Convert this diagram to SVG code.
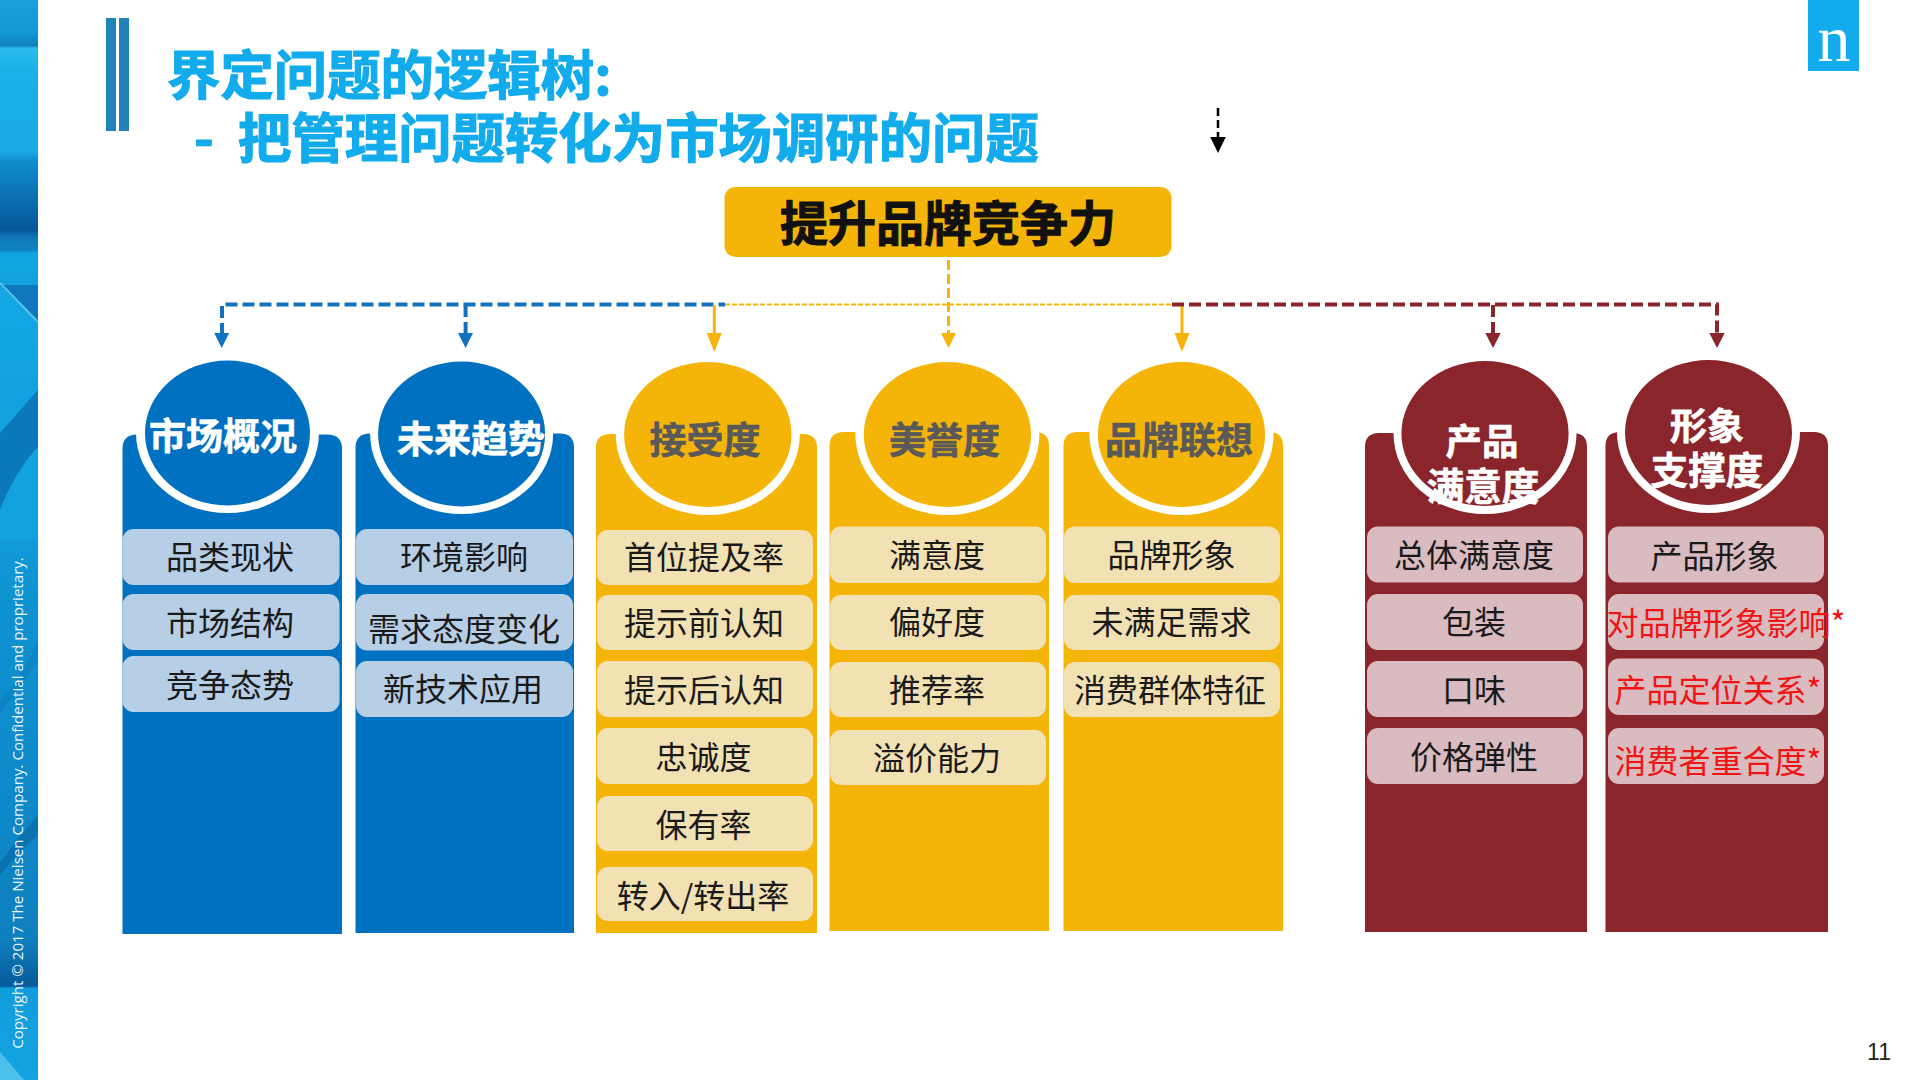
<svg xmlns="http://www.w3.org/2000/svg" width="1920" height="1080" viewBox="0 0 1920 1080">
<style>
text{font-family:"Noto Sans CJK SC","Noto Sans",sans-serif;text-anchor:middle;dominant-baseline:central}
.blue{fill:#0070c0}.gold{fill:#f5b508}.red{fill:#8a252b}
.ib{fill:#b6cfe7}.ig{fill:#f1e1b3}.ir{fill:#d9bbc0}
.t{font-size:32px;fill:#1a1a1a}.r{font-size:32px;fill:#f01414}
.c{font-size:37px;font-weight:700;fill:#fff;stroke:#fff;stroke-width:.6}
.g{font-size:37px;font-weight:700;fill:#595959;stroke:#595959;stroke-width:.6}
.ring{fill:#fff}
.title{font-size:53.400px;font-weight:700;fill:#12abeb;stroke:#12abeb;stroke-width:1.200;text-anchor:start}
.lb{fill:none;stroke:#1272bd;stroke-width:4;stroke-dasharray:12 5}
.lg{fill:none;stroke:#f5b508;stroke-width:2;stroke-dasharray:5 2}
.lgd{fill:none;stroke:#f5b508;stroke-width:3;stroke-dasharray:10 4}
.lgs{fill:none;stroke:#f5b508;stroke-width:3}
.lr{fill:none;stroke:#8a252b;stroke-width:4;stroke-dasharray:12 5}
.lk{fill:none;stroke:#000;stroke-width:2.500;stroke-dasharray:8 4}
</style>
<defs>
<linearGradient id="band" gradientUnits="userSpaceOnUse" x1="0" y1="0" x2="0" y2="1080">
<stop offset="0" stop-color="#1aa0d8"/><stop offset=".031" stop-color="#1298d2"/><stop offset=".042" stop-color="#0f80bc"/><stop offset=".045" stop-color="#2abcec"/><stop offset=".065" stop-color="#1cb0e8"/><stop offset=".14" stop-color="#1aaae4"/><stop offset=".15" stop-color="#0f8ccb"/><stop offset=".213" stop-color="#06569a"/><stop offset=".22" stop-color="#0f78b8"/><stop offset=".232" stop-color="#0f84c2"/><stop offset=".234" stop-color="#12a4e2"/><stop offset=".264" stop-color="#12a2e0"/>
<stop offset=".27" stop-color="#14a8e6"/><stop offset=".5" stop-color="#1199d8"/><stop offset=".56" stop-color="#0f92d0"/><stop offset=".75" stop-color="#0e88c8"/><stop offset=".87" stop-color="#0f80be"/><stop offset=".913" stop-color="#07599a"/><stop offset=".915" stop-color="#119ddc"/><stop offset="1" stop-color="#13a3e0"/>
</linearGradient>
</defs>
<rect id="bg" width="1920" height="1080" fill="#fff"/>
<g id="side-band">
<rect width="38" height="1080" fill="url(#band)"/>
<path d="M0 285H38V322Z" fill="#0f78bc"/>
<path d="M0 283L38 322" stroke="#54c6ee" stroke-width="2" fill="none"/>
<path d="M0 433L38 390V447Q16 470 0 510Z" fill="#0b78ba"/>
<path d="M0 510Q16 470 38 447V540H0Z" fill="#12a2e0"/>
<path d="M0 700Q20 680 38 640V660Q20 690 0 712Z" fill="#0b6fae" opacity=".3"/>
<path d="M0 863Q20 835 38 815V835Q20 850 0 875Z" fill="#07609e" opacity=".55"/>
<path d="M0 1052L24 1080H0Z" fill="#4cc0ec"/>
<text transform="translate(17 803) rotate(-90)" style="font-family:'Open Sans','Noto Sans',sans-serif;font-size:15.100px;fill:#e8f4fb">Copyright © 2017 The Nielsen Company. Confidential and proprietary.</text>
</g>
<g id="title">
<rect x="106" y="18" width="10" height="113" fill="#1f82b8"/><rect x="119" y="18" width="10" height="113" fill="#1f82b8"/>
<text class="title" x="167" y="71">界定问题的逻辑树:</text>
<text class="title" x="194" y="134">-</text>
<text class="title" x="238" y="134">把管理问题转化为市场调研的问题</text>
</g>
<g id="logo"><rect x="1808" y="0" width="51" height="71" fill="#12abeb"/>
<text x="1834" y="61" style="font-family:'Liberation Serif',serif;font-size:66px;fill:#fff;dominant-baseline:auto">n</text></g>
<g id="connectors">
<path class="lb" d="M222 335V304.500H725"/><path class="lb" d="M465.600 305V335"/>
<path class="lg" d="M725 304.500H1172"/>
<path class="lgd" d="M948.500 260V335"/><path class="lgs" d="M714.300 305V335"/><path class="lgs" d="M1182 305V335"/>
<path class="lr" d="M1172 304.500H1717V335"/><path class="lr" d="M1493 305V335"/>
<path class="lk" d="M1218 108V138"/>
<g fill="#1272bd"><path d="M214.200 333H229.200L221.700 348Z"/><path d="M458 333H473L465.600 348Z"/></g>
<g fill="#f5b508"><path d="M706.800 333H721.800L714.300 352Z"/><path d="M941 333H956L948.500 348Z"/><path d="M1174.500 333H1189.500L1182 352Z"/></g>
<g fill="#8a252b"><path d="M1485.300 333H1500.700L1493 348Z"/><path d="M1709.300 333H1724.700L1717 348Z"/></g>
<path d="M1210.200 137H1225.800L1218 153Z" fill="#000"/>
</g>
<g id="root"><rect x="724.500" y="187" width="447" height="70" rx="11" class="gold"/>
<text x="948" y="219.500" style="font-size:48px;font-weight:700;fill:#111;stroke:#111;stroke-width:1">提升品牌竞争力</text></g>

<g id="col-1"><path class="blue" d="M122.500 934V449Q122.500 434.500 137 434.500H327Q342 434.500 342 449V934Z"/>
<ellipse class="ring" cx="227.500" cy="433" rx="91.500" ry="80"/><ellipse class="blue" cx="227.500" cy="433" rx="82.500" ry="72.500"/>
<text class="c" x="223" y="433.500">市场概况</text>
<rect class="ib" x="122.500" y="529" width="217" height="56" rx="11"/><rect class="ib" x="122.500" y="594" width="217" height="56" rx="11"/><rect class="ib" x="122.500" y="656" width="217" height="56" rx="11"/>
<text class="t" x="230" y="554.500">品类现状</text><text class="t" x="230" y="620.500">市场结构</text><text class="t" x="230" y="682.500">竞争态势</text></g>

<g id="col-2"><path class="blue" d="M355.500 933V448Q355.500 433.500 370 433.500H560Q574 433.500 574 448V933Z"/>
<ellipse class="ring" cx="461.600" cy="434" rx="91.500" ry="80"/><ellipse class="blue" cx="461.600" cy="434" rx="83.500" ry="72.500"/>
<text class="c" x="471" y="437">未来趋势</text>
<rect class="ib" x="356" y="529" width="217" height="56" rx="11"/><rect class="ib" x="356" y="594" width="217" height="56.500" rx="11"/><rect class="ib" x="356" y="661" width="217" height="56" rx="11"/>
<text class="t" x="464" y="555">环境影响</text><text class="t" x="464" y="627">需求态度变化</text><text class="t" x="463" y="687">新技术应用</text></g>

<g id="col-3"><path class="gold" d="M596 933V448Q596 434 610 434H803Q817 434 817 448V933Z"/>
<ellipse class="ring" cx="707.800" cy="434.500" rx="92" ry="80.500"/><ellipse class="gold" cx="707.800" cy="434.500" rx="83.700" ry="72.500"/>
<text class="g" x="705" y="437.500">接受度</text>
<rect class="ig" x="597" y="530" width="216" height="55" rx="11"/><rect class="ig" x="597" y="595" width="216" height="55" rx="11"/><rect class="ig" x="597" y="661" width="216" height="56" rx="11"/><rect class="ig" x="597" y="728" width="216" height="56" rx="11"/><rect class="ig" x="597" y="796" width="216" height="55" rx="11"/><rect class="ig" x="597" y="867" width="216" height="54" rx="11"/>
<text class="t" x="704" y="554.500">首位提及率</text><text class="t" x="704" y="620.500">提示前认知</text><text class="t" x="704" y="687.500">提示后认知</text><text class="t" x="703.500" y="755">忠诚度</text><text class="t" x="703.500" y="823">保有率</text><text class="t" x="703" y="894">转入/转出率</text></g>

<g id="col-4"><path class="gold" d="M829.500 931V446Q829.500 432 844 432H1035Q1049 432 1049 446V931Z"/>
<ellipse class="ring" cx="947.400" cy="434.500" rx="92" ry="80.500"/><ellipse class="gold" cx="947.400" cy="434.500" rx="83.600" ry="72.500"/>
<text class="g" x="944.500" y="437.500">美誉度</text>
<rect class="ig" x="830" y="526.500" width="216" height="56.500" rx="11"/><rect class="ig" x="830" y="595" width="216" height="55" rx="11"/><rect class="ig" x="830" y="662" width="216" height="55" rx="11"/><rect class="ig" x="830" y="730" width="216" height="55" rx="11"/>
<text class="t" x="937" y="552.500">满意度</text><text class="t" x="937" y="620">偏好度</text><text class="t" x="937" y="688">推荐率</text><text class="t" x="937" y="756">溢价能力</text></g>

<g id="col-5"><path class="gold" d="M1063.500 931V446Q1063.500 432 1078 432H1269Q1283 432 1283 446V931Z"/>
<ellipse class="ring" cx="1181.500" cy="434.500" rx="92" ry="80.500"/><ellipse class="gold" cx="1181.500" cy="434.500" rx="83.600" ry="72.500"/>
<text class="g" x="1179" y="437.500">品牌联想</text>
<rect class="ig" x="1064" y="526.500" width="216" height="56.500" rx="11"/><rect class="ig" x="1064" y="595" width="216" height="55" rx="11"/><rect class="ig" x="1064" y="662" width="216" height="55" rx="11"/>
<text class="t" x="1171.500" y="552.500">品牌形象</text><text class="t" x="1171.500" y="620">未满足需求</text><text class="t" x="1170" y="688">消费群体特征</text></g>

<g id="col-6"><path class="red" d="M1365 932V447Q1365 433 1379 433H1573Q1587 433 1587 447V932Z"/>
<ellipse class="ring" cx="1485" cy="433.500" rx="91.500" ry="80.500"/><ellipse class="red" cx="1485" cy="433.500" rx="83.600" ry="72.500"/>
<text class="c" x="1482" y="439" style="font-size:36.500px">产品</text><text class="c" x="1483" y="483" style="font-size:37.500px">满意度</text>
<rect class="ir" x="1367" y="526.500" width="216" height="56" rx="11"/><rect class="ir" x="1367" y="594" width="216" height="56" rx="11"/><rect class="ir" x="1367" y="661" width="216" height="56" rx="11"/><rect class="ir" x="1367" y="728" width="216" height="56" rx="11"/>
<text class="t" x="1474" y="552.500">总体满意度</text><text class="t" x="1474" y="620">包装</text><text class="t" x="1474" y="687.500">口味</text><text class="t" x="1474" y="755">价格弹性</text></g>

<g id="col-7"><path class="red" d="M1605.500 932V446Q1605.500 432 1620 432H1814Q1828 432 1828 446V932Z"/>
<ellipse class="ring" cx="1708.500" cy="432.500" rx="91.500" ry="80.500"/><ellipse class="red" cx="1708.500" cy="432.500" rx="83.500" ry="72.500"/>
<text class="c" x="1707" y="424" style="font-size:37px">形象</text><text class="c" x="1707" y="467" style="font-size:37.500px">支撑度</text>
<rect class="ir" x="1608" y="526.500" width="216" height="56" rx="11"/><rect class="ir" x="1608" y="594" width="216" height="56" rx="11"/><rect class="ir" x="1608" y="658.500" width="216" height="56.500" rx="11"/><rect class="ir" x="1608" y="728" width="216" height="56" rx="11"/>
<text class="t" x="1714.500" y="553.500">产品形象</text><text class="r" x="1726" y="621">对品牌形象影响*</text><text class="r" x="1718" y="687.500">产品定位关系*</text><text class="r" x="1718" y="759">消费者重合度*</text></g>

<text id="page" x="1879" y="1052" style="font-family:'Liberation Sans',sans-serif;font-size:23px;fill:#222">11</text>
</svg>
